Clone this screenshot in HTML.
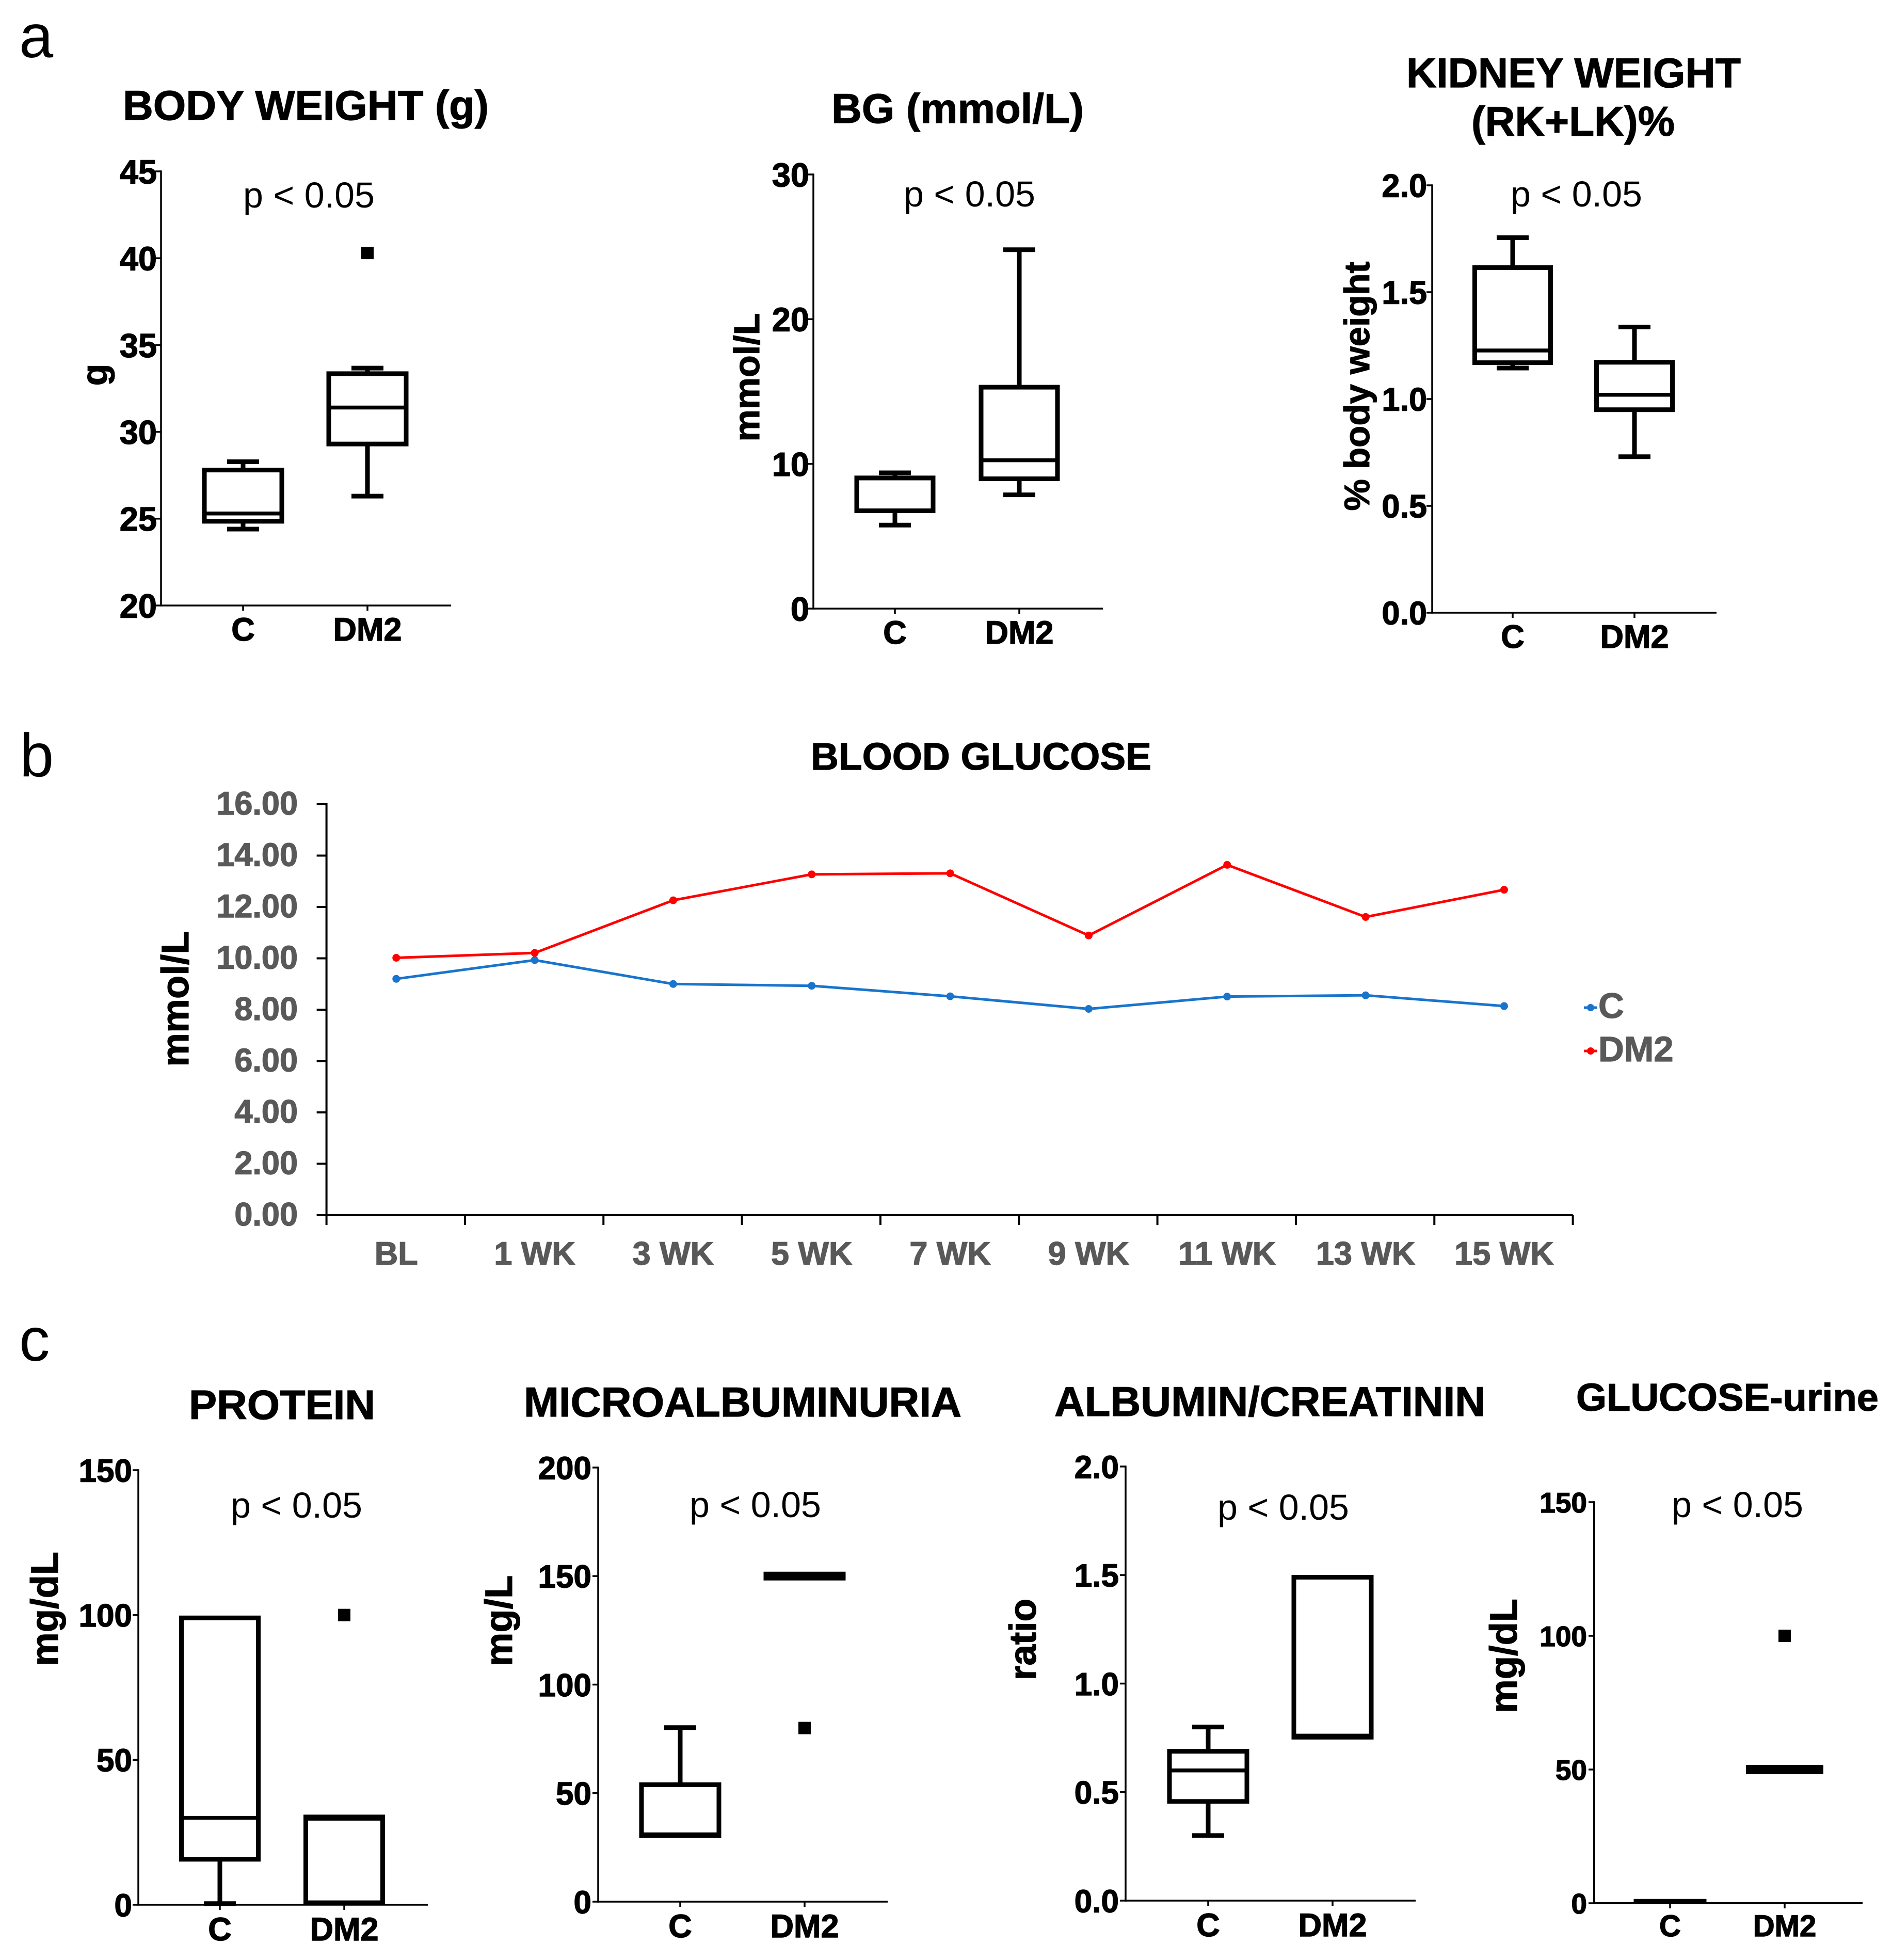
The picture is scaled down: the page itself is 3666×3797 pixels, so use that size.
<!DOCTYPE html>
<html lang="en">
<head>
<meta charset="utf-8">
<title>Diabetes model figure</title>
<style>
html,body{margin:0;padding:0;background:#fff;}
svg{display:block;}
text{font-family:"Liberation Sans",Arial,sans-serif;}
.b{font-weight:bold;fill:#000;stroke:#000;stroke-width:1.2;}
.r{font-weight:normal;fill:#000;}
.gr{font-weight:bold;fill:#595959;stroke:#595959;stroke-width:1.2;}
</style>
</head>
<body>
<svg id="figure" xmlns="http://www.w3.org/2000/svg" width="3666" height="3797" viewBox="0 0 3666 3797">
<rect x="0" y="0" width="3666" height="3797" fill="#fff"/>

<text class="r" x="37" y="111" font-size="119">a</text>
<text class="r" x="38" y="1504" font-size="119">b</text>
<text class="r" x="37" y="2636" font-size="119">c</text>

<text class="b" x="238" y="232" font-size="81" textLength="709" lengthAdjust="spacingAndGlyphs">BODY WEIGHT (g)</text>
<text class="b" x="1611" y="238" font-size="81" textLength="489" lengthAdjust="spacingAndGlyphs">BG (mmol/L)</text>
<text class="b" x="2725" y="169" font-size="81" textLength="648" lengthAdjust="spacingAndGlyphs">KIDNEY WEIGHT</text>
<text class="b" x="2851" y="263" font-size="81" textLength="394" lengthAdjust="spacingAndGlyphs">(RK+LK)%</text>
<text class="b" x="1571" y="1491" font-size="74" textLength="660" lengthAdjust="spacingAndGlyphs">BLOOD GLUCOSE</text>
<text class="b" x="366" y="2749" font-size="80" textLength="361" lengthAdjust="spacingAndGlyphs">PROTEIN</text>
<text class="b" x="1015" y="2744" font-size="81" textLength="848" lengthAdjust="spacingAndGlyphs">MICROALBUMINURIA</text>
<text class="b" x="2043" y="2743" font-size="81" textLength="835" lengthAdjust="spacingAndGlyphs">ALBUMIN/CREATININ</text>
<text class="b" x="3054" y="2733" font-size="75" textLength="586" lengthAdjust="spacingAndGlyphs">GLUCOSE-urine</text>

<text class="r" x="471" y="402" font-size="70">p &lt; 0.05</text>
<text class="r" x="1751" y="400" font-size="70">p &lt; 0.05</text>
<text class="r" x="2927" y="400" font-size="70">p &lt; 0.05</text>
<text class="r" x="447" y="2940" font-size="70">p &lt; 0.05</text>
<text class="r" x="1336" y="2939" font-size="70">p &lt; 0.05</text>
<text class="r" x="2359" y="2944" font-size="70">p &lt; 0.05</text>
<text class="r" x="3239" y="2939" font-size="70">p &lt; 0.05</text>

<text class="b" transform="translate(207 726) rotate(-90)" text-anchor="middle" font-size="70">g</text>
<text class="b" transform="translate(1471 731) rotate(-90)" text-anchor="middle" font-size="70">mmol/L</text>
<text class="b" transform="translate(2653 748) rotate(-90)" text-anchor="middle" font-size="69">% body weight</text>
<text class="b" transform="translate(365 1935) rotate(-90)" text-anchor="middle" font-size="74">mmol/L</text>
<text class="b" transform="translate(112 3117) rotate(-90)" text-anchor="middle" font-size="74">mg/dL</text>
<text class="b" transform="translate(992 3140) rotate(-90)" text-anchor="middle" font-size="74">mg/L</text>
<text class="b" transform="translate(2007 3176) rotate(-90)" text-anchor="middle" font-size="73">ratio</text>
<text class="b" transform="translate(2939 3208) rotate(-90)" text-anchor="middle" font-size="74">mg/dL</text>

<g>
  <line x1="3069" y1="1952" x2="3095" y2="1952" stroke="#1874CD" stroke-width="5"/>
  <circle cx="3082" cy="1952" r="7" fill="#1874CD"/>
  <text class="gr" x="3097" y="1972" font-size="69">C</text>
  <line x1="3069" y1="2036" x2="3095" y2="2036" stroke="#FF0000" stroke-width="5"/>
  <circle cx="3082" cy="2036" r="7" fill="#FF0000"/>
  <text class="gr" x="3097" y="2056" font-size="69">DM2</text>
</g>

<script>
// Box values are ordered: whisker low, Q1, median, Q3, whisker high
const groupLabels = ['C', 'DM2'];

const bodyWeightC = [24.4, 24.85, 25.3, 27.8, 28.28];
const bodyWeightDM2 = [26.3, 29.3, 31.4, 33.35, 33.67];
const bodyWeightOutliersC = [];
const bodyWeightOutliersDM2 = [40.3];
const bodyWeightTicks = ['20', '25', '30', '35', '40', '45'];

const bgC = [5.77, 6.76, 9.0, 9.03, 9.38];
const bgDM2 = [7.86, 8.97, 10.25, 15.3, 24.8];
const bgOutliersC = [];
const bgOutliersDM2 = [];
const bgTicks = ['0', '10', '20', '30'];

const kidneyC = [1.145, 1.17, 1.227, 1.615, 1.755];
const kidneyDM2 = [0.73, 0.95, 1.02, 1.172, 1.337];
const kidneyOutliersC = [];
const kidneyOutliersDM2 = [];
const kidneyTicks = ['0.0', '0.5', '1.0', '1.5', '2.0'];

const proteinC = [0.4, 15.7, 30, 99, 99];
const proteinDM2 = [0.7, 0.7, 29.7, 30.3, 30.3];
const proteinOutliersC = [];
const proteinOutliersDM2 = [100];
const proteinTicks = ['0', '50', '100', '150'];

const microC = [30.4, 30.4, 31, 53.9, 80.2];
const microDM2 = [149.05, 149.05, 150, 150.95, 150.95];
const microOutliersC = [];
const microOutliersDM2 = [80];
const microTicks = ['0', '50', '100', '150', '200'];

const albuminC = [0.3, 0.457, 0.6, 0.688, 0.8];
const albuminDM2 = [0.753, 0.753, 0.76, 1.49, 1.49];
const albuminOutliersC = [];
const albuminOutliersDM2 = [];
const albuminTicks = ['0.0', '0.5', '1.0', '1.5', '2.0'];

const glucoseC = [0.88, 0.88, 0.88, 0.88, 0.88];
const glucoseDM2 = [49.15, 49.15, 50, 50.85, 50.85];
const glucoseOutliersC = [];
const glucoseOutliersDM2 = [100];
const glucoseTicks = ['0', '50', '100', '150'];

// Blood glucose time course
const weekLabels = ['BL', '1 WK', '3 WK', '5 WK', '7 WK', '9 WK', '11 WK', '13 WK', '15 WK'];
const glucoseSeriesC = [9.2, 9.93, 9.0, 8.93, 8.52, 8.03, 8.51, 8.56, 8.14];
const glucoseSeriesDM2 = [10.02, 10.21, 12.26, 13.27, 13.31, 10.89, 13.64, 11.61, 12.67];
const glucoseSeriesTicks = ['0.00', '2.00', '4.00', '6.00', '8.00', '10.00', '12.00', '14.00', '16.00'];

const svg = document.getElementById('figure');
const NS = 'http://www.w3.org/2000/svg';

function make(tag, attrs, parent) {
  const el = document.createElementNS(NS, tag);
  for (const k in attrs) el.setAttribute(k, attrs[k]);
  parent.appendChild(el);
  return el;
}

function drawLine(parent, name, x1, y1, x2, y2, width, color) {
  const el = make('line', {x1: x1, y1: y1, x2: x2, y2: y2, stroke: color, 'stroke-width': width}, parent);
  
  
  return el;
}

function drawText(parent, name, str, x, y, size, anchor, color) {
  const el = make('text', {x: x, y: y, 'font-size': size, 'text-anchor': anchor, 'font-weight': 'bold', fill: color, stroke: color, 'stroke-width': 1.4}, parent);
  el.textContent = str;
  
  
  return el;
}

function drawBox(parent, name, values, outliers, cx, yScale, boxWidth) {
  const g = make('g', {}, parent);
  
  
  const lo = values[0], q1 = values[1], med = values[2], q3 = values[3], hi = values[4];
  const capHalf = 31, sw = 9;
  if (hi > q3) {
    drawLine(g, name + '-upper-whisker', cx, yScale(hi), cx, yScale(q3), sw, '#000');
    drawLine(g, name + '-upper-cap', cx - capHalf, yScale(hi), cx + capHalf, yScale(hi), sw, '#000');
  }
  if (lo < q1) {
    drawLine(g, name + '-lower-whisker', cx, yScale(lo), cx, yScale(q1), sw, '#000');
    drawLine(g, name + '-lower-cap', cx - capHalf, yScale(lo), cx + capHalf, yScale(lo), sw, '#000');
  }
  const rect = make('rect', {
    x: cx - boxWidth / 2,
    y: yScale(q3),
    width: boxWidth,
    height: yScale(q1) - yScale(q3),
    fill: 'none',
    stroke: '#000',
    'stroke-width': sw,
    'stroke-linejoin': 'miter'
  }, g);
  
  
  drawLine(g, name + '-median', cx - boxWidth / 2, yScale(med), cx + boxWidth / 2, yScale(med), 7.5, '#000');
  outliers.forEach(function (v) {
    const sq = make('rect', {x: cx - 12, y: yScale(v) - 12, width: 24, height: 24, fill: '#000'}, g);
    
    
  });
}

function drawBoxPanel(p) {
  const g = make('g', {}, svg);
  
  
  const min = Number(p.ticks[0]);
  const max = Number(p.ticks[p.ticks.length - 1]);
  const yScale = function (v) { return p.yBottom - (v - min) / (max - min) * (p.yBottom - p.yTop); };
  const xPos = [p.xC, p.xD];

  drawBox(g, p.name + '-box-c', p.c, p.outC, p.xC, yScale, p.boxW);
  drawBox(g, p.name + '-box-dm2', p.d, p.outD, p.xD, yScale, p.boxW);

  drawLine(g, p.name + '-y-axis', p.xAxis, p.yTop - 1.75, p.xAxis, p.yBottom + 1.75, p.axisW, '#000');
  drawLine(g, p.name + '-x-axis', p.xAxis, p.yBottom, p.xRight, p.yBottom, p.axisW, '#000');

  p.ticks.forEach(function (t) {
    const y = yScale(Number(t));
    drawLine(g, p.name + '-y-tick-' + t, p.xAxis - 11, y, p.xAxis, y, 3.5, '#000');
    drawText(g, p.name + '-y-tick-label-' + t, t, p.xLabel, y + p.tickSize * 0.36, p.tickSize, 'end', '#000');
  });
  groupLabels.forEach(function (lab, i) {
    drawLine(g, p.name + '-x-tick-' + lab, xPos[i], p.yBottom, xPos[i], p.yBottom + 10, 3.5, '#000');
    drawText(g, p.name + '-x-tick-label-' + lab, lab, xPos[i], p.xBase, p.catSize, 'middle', '#000');
  });
}

const boxPanels = [
  {name: 'body-weight', c: bodyWeightC, d: bodyWeightDM2, outC: bodyWeightOutliersC, outD: bodyWeightOutliersDM2, ticks: bodyWeightTicks,
   xAxis: 312, xRight: 874, yTop: 332, yBottom: 1173, xC: 471, xD: 712, boxW: 150, xLabel: 304, xBase: 1241, tickSize: 65, catSize: 63, axisW: 3.5},
  {name: 'bg', c: bgC, d: bgDM2, outC: bgOutliersC, outD: bgOutliersDM2, ticks: bgTicks,
   xAxis: 1576, xRight: 2137, yTop: 338, yBottom: 1179, xC: 1734, xD: 1975, boxW: 148, xLabel: 1568, xBase: 1247, tickSize: 65, catSize: 63, axisW: 3.5},
  {name: 'kidney-weight', c: kidneyC, d: kidneyDM2, outC: kidneyOutliersC, outD: kidneyOutliersDM2, ticks: kidneyTicks,
   xAxis: 2775, xRight: 3326, yTop: 359, yBottom: 1187, xC: 2931, xD: 3167, boxW: 147, xLabel: 2765, xBase: 1255, tickSize: 63, catSize: 63, axisW: 3.5},
  {name: 'protein', c: proteinC, d: proteinDM2, outC: proteinOutliersC, outD: proteinOutliersDM2, ticks: proteinTicks,
   xAxis: 268, xRight: 829, yTop: 2848, yBottom: 3690, xC: 426, xD: 667, boxW: 149, xLabel: 256, xBase: 3759, tickSize: 62, catSize: 63, axisW: 3.5},
  {name: 'microalbuminuria', c: microC, d: microDM2, outC: microOutliersC, outD: microOutliersDM2, ticks: microTicks,
   xAxis: 1159, xRight: 1720, yTop: 2843, yBottom: 3684, xC: 1318, xD: 1559, boxW: 150, xLabel: 1146, xBase: 3753, tickSize: 62, catSize: 63, axisW: 3.5},
  {name: 'albumin-creatinin', c: albuminC, d: albuminDM2, outC: albuminOutliersC, outD: albuminOutliersDM2, ticks: albuminTicks,
   xAxis: 2181, xRight: 2743, yTop: 2841, yBottom: 3682, xC: 2341, xD: 2582, boxW: 150, xLabel: 2168, xBase: 3751, tickSize: 62, catSize: 63, axisW: 3.5},
  {name: 'glucose-urine', c: glucoseC, d: glucoseDM2, outC: glucoseOutliersC, outD: glucoseOutliersDM2, ticks: glucoseTicks,
   xAxis: 3089, xRight: 3609, yTop: 2910, yBottom: 3687, xC: 3236, xD: 3458, boxW: 141, xLabel: 3075, xBase: 3751, tickSize: 55, catSize: 58, axisW: 4}
];
boxPanels.forEach(drawBoxPanel);

// Line chart
(function () {
  const g = make('g', {}, svg);
  
  
  const left = 632.6, right = 3047.6, top = 1558, bottom = 2354;
  const step = (right - left) / weekLabels.length;
  const min = Number(glucoseSeriesTicks[0]);
  const max = Number(glucoseSeriesTicks[glucoseSeriesTicks.length - 1]);
  const yScale = function (v) { return bottom - (v - min) / (max - min) * (bottom - top); };
  const xScale = function (i) { return left + step * (i + 0.5) + 1; };

  drawLine(g, 'blood-glucose-y-axis', left, top - 2, left, bottom + 19, 4, '#000');
  drawLine(g, 'blood-glucose-x-axis', left, bottom, right, bottom, 4, '#000');

  glucoseSeriesTicks.forEach(function (t) {
    const y = yScale(Number(t));
    drawLine(g, 'blood-glucose-y-tick-' + t, left - 19, y, left, y, 4, '#000');
    drawText(g, 'blood-glucose-y-tick-label-' + t, t, 577, y + 20, 63, 'end', '#595959');
  });
  weekLabels.forEach(function (lab, i) {
    drawLine(g, 'blood-glucose-x-tick-' + i, left + step * (i + 1), bottom, left + step * (i + 1), bottom + 19, 4, '#000');
    drawText(g, 'blood-glucose-x-tick-label-' + lab.replace(' ', '-'), lab, xScale(i), 2450, 63, 'middle', '#595959');
  });

  function drawSeries(name, values, color) {
    const sg = make('g', {}, g);
    
    
    const pts = values.map(function (v, i) { return xScale(i) + ',' + yScale(v); }).join(' ');
    const line = make('polyline', {points: pts, fill: 'none', stroke: color, 'stroke-width': 5, 'stroke-linejoin': 'round'}, sg);
    
    
    values.forEach(function (v, i) {
      const dot = make('circle', {cx: xScale(i), cy: yScale(v), r: 7.5, fill: color}, sg);
      
      
    });
  }
  drawSeries('series-c', glucoseSeriesC, '#1874CD');
  drawSeries('series-dm2', glucoseSeriesDM2, '#FF0000');
})();
</script>
</svg>
</body>
</html>
